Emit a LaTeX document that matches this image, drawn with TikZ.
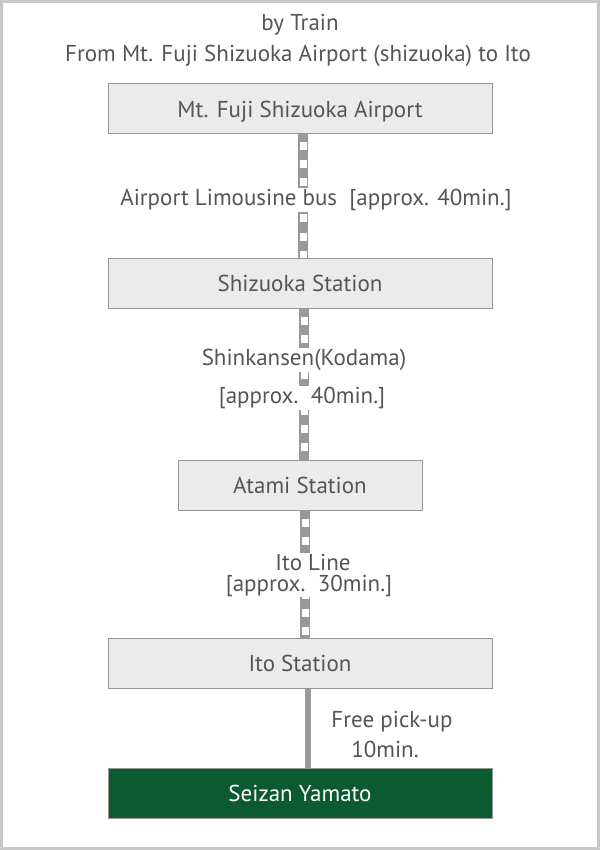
\documentclass[tikz,border=0pt]{standalone}
\usepackage{fontspec}
\setmainfont{PT Sans}
\definecolor{Frame}{RGB}{200, 200, 200}
\definecolor{BoxFill}{RGB}{235, 235, 235}
\definecolor{BoxLine}{RGB}{150, 150, 150}
\definecolor{TextGray}{RGB}{85, 85, 85}
\definecolor{Rail}{RGB}{153, 153, 153}
\definecolor{Forest}{RGB}{12, 90, 47}

\tikzset{
    station/.style={draw=BoxLine, fill=BoxFill, line width=1pt, minimum width=384pt,
        minimum height=50pt, inner sep=0pt, text depth=0pt, text=TextGray,
        font=\fontsize{23}{26}\selectfont},
    caption/.style={fill=white, inner sep=1pt, align=center, text=TextGray,
        font=\fontsize{23}{21}\selectfont},
    rail/.style={Rail, line width=10pt,
        postaction={draw=white, line width=7pt, dash pattern=on 8pt off 10pt, dash phase=10pt}},
}

\begin{document}
\begin{tikzpicture}[x=1pt, y=-1pt]

\useasboundingbox (0,0) rectangle (600,850);
\draw[Frame, line width=3pt] (1.5,1.5) rectangle (598.5,848.5);

% Heading
\node[caption] (mode) at (300,25) {by Train};
\node[caption] (route) at (298,56) {From Mt. Fuji Shizuoka Airport (shizuoka) to Ito};

% Stations
\node[station] (airport) at (300,109) {Mt. Fuji Shizuoka Airport};
\node[station] (shizuoka) at (300,283) {Shizuoka Station};
\node[station, minimum width=244pt] (atami) at (300,485) {Atami Station};
\node[station] (ito) at (300,663) {Ito Station};
\node[station, fill=Forest, text=white] (seizan) at (300,793) {Seizan Yamato};

% Legs
\draw[rail] ([xshift=3pt]airport.south) -- ([xshift=3pt]shizuoka.north);
\draw[rail] ([xshift=4pt]shizuoka.south) -- ([xshift=4pt]atami.north);
\draw[rail] ([xshift=5pt]atami.south) -- ([xshift=5pt]ito.north);
\draw[Rail, line width=6pt] ([xshift=8pt]ito.south) -- ([xshift=8pt]seizan.north);

% Leg captions
\node[caption] (bus) at (316,200) {Airport Limousine bus\ \ [approx. 40min.]};
\node[caption] (shinkansen) at (304,360) {Shinkansen(Kodama)};
\node[caption] (shinkansentime) at (302,398) {[approx.\ \ 40min.]};
\node[caption] (itoline) at (309,575) {\hspace*{8pt}Ito Line\\{[approx.\ \ 30min.]}};
\node[caption] (pickup) at (392,722) {Free pick-up};
\node[caption] (pickuptime) at (385,749) {10min.};

\end{tikzpicture}
\end{document}
